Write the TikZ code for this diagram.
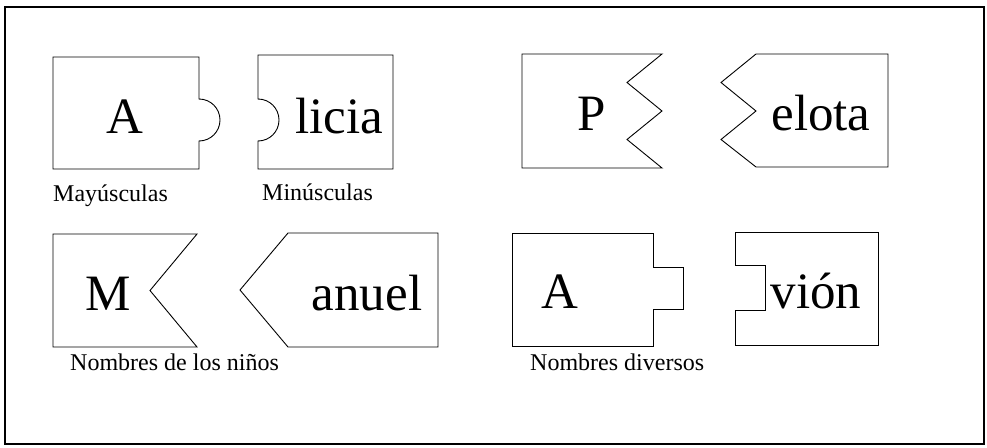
\documentclass[tikz,border=0pt]{standalone}
\usepackage{fontspec}
\setmainfont{Liberation Serif}
\begin{document}
\begin{tikzpicture}[x=1pt,y=-1pt,
  piece/.style={draw=black, line width=0.9pt, line join=miter},
  frame/.style={draw=black, line width=1.4pt},
  big/.style={font=\fontsize{51}{51}\selectfont, inner sep=0pt, anchor=base},
  lbl/.style={font=\fontsize{24}{24}\selectfont, inner sep=0pt, anchor=base west}]
\useasboundingbox (0,0) rectangle (987,447);
\draw[frame] (5,7) rectangle (984,444);

% Pair 1: semicircle tab
\draw[piece] (53,57) -- (199,57) -- (199,99)
  .. controls (210.6,99) and (220,108.4) .. (220,120)
  .. controls (220,131.6) and (210.6,141) .. (199,141)
  -- (199,169) -- (53,169) -- cycle;
\draw[piece] (258,55) -- (393,55) -- (393,169) -- (258,169) -- (258,141)
  .. controls (269.6,141) and (279,131.6) .. (279,120)
  .. controls (279,108.4) and (269.6,99) .. (258,99) -- cycle;
\node[big] (tA1) at (125,133) {A};
\node[big] (tlicia) at (339,133) {licia};
\node[lbl] (lmay) at (53,201) {Mayúsculas};
\node[lbl] (lmin) at (262,200) {Minúsculas};

% Pair 2: zigzag
\draw[piece] (522,54) -- (662,54) -- (627,82.5) -- (662,111) -- (627,139.5)
  -- (662,168) -- (522,168) -- cycle;
\draw[piece] (756,54) -- (888,54) -- (888,167) -- (756,167) -- (721,139.5)
  -- (756,111) -- (721,82.5) -- cycle;
\node[big] (tP) at (591.5,130) {P};
\node[big] (telota) at (821,130) {elota};

% Pair 3: arrow notch
\draw[piece] (53,234) -- (197,234) -- (150,290.5) -- (197,347) -- (53,347) -- cycle;
\draw[piece] (288,233) -- (438,233) -- (438,347) -- (288,347) -- (240,290) -- cycle;
\node[big] (tM) at (108.5,310) {M};
\node[big] (tanuel) at (367,310) {anuel};
\node[lbl] (lninos) at (70,370) {Nombres de los niños};

% Pair 4: rectangular tab
\draw[piece] (512,233) -- (653,233) -- (653,267) -- (683,267) -- (683,309)
  -- (653,309) -- (653,346) -- (512,346) -- cycle;
\draw[piece] (735,232) -- (878,232) -- (878,345) -- (735,345) -- (735,310)
  -- (765,310) -- (765,265) -- (735,265) -- cycle;
\node[big] (tA2) at (559.5,308) {A};
\node[big] (tvion) at (816,308) {vión};
\node[lbl] (ldiv) at (530,370) {Nombres diversos};
\end{tikzpicture}
\end{document}
